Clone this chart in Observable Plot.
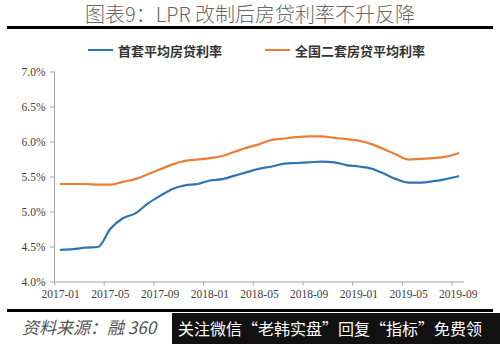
<!DOCTYPE html>
<html><head><meta charset="utf-8">
<script src="https://cdn.jsdelivr.net/npm/d3@7"></script>
<script src="https://cdn.jsdelivr.net/npm/@observablehq/plot@0.6"></script>
<style>
body{margin:0;width:500px;height:344px;position:relative;overflow:hidden;background:#fff;font-family:"Noto Sans CJK SC",sans-serif}
#title{position:absolute;left:0;top:2px;width:500px;text-align:center;font-size:20px;line-height:24px;color:#666;font-weight:300}
.rule{position:absolute;left:7px;width:486px;height:3px;background:#000}
#legend{position:absolute;top:41px;left:0;width:500px;height:18px;font-size:13px;color:#333;font-weight:bold}
.item{position:absolute;top:0;display:flex;align-items:center;height:18px}
.sw{display:inline-block;width:25px;height:2px;margin-right:5px}
#chart{position:absolute;left:0;top:60px}
#source{position:absolute;left:22px;top:314px;font-size:17px;color:#555;font-style:italic;line-height:26px}
#wm{position:absolute;left:172px;top:313px;width:328px;height:31px;background:#111;color:#fff;font-size:16px;line-height:31px;padding-left:6px;box-sizing:border-box;white-space:nowrap;overflow:hidden}
</style></head><body>
<div id="title">图表9：LPR 改制后房贷利率不升反降</div>
<div class="rule" style="top:26px"></div>
<div id="legend"></div>
<div id="chart"></div>
<div class="rule" style="top:309px"></div>
<div id="source">资料来源：融 360</div>
<div id="wm">关注微信“老韩实盘”回复“指标”免费领</div>
<script>
const months = ["2017-01","2017-02","2017-03","2017-04","2017-05","2017-06","2017-07","2017-08","2017-09","2017-10","2017-11","2017-12",
  "2018-01","2018-02","2018-03","2018-04","2018-05","2018-06","2018-07","2018-08","2018-09","2018-10","2018-11","2018-12",
  "2019-01","2019-02","2019-03","2019-04","2019-05","2019-06","2019-07","2019-08","2019-09"];
const firstHome = [4.46,4.47,4.49,4.50,4.76,4.91,4.98,5.12,5.23,5.33,5.38,5.40,5.45,5.47,5.52,5.57,5.62,5.65,5.69,5.70,5.71,5.72,5.71,5.67,5.65,5.62,5.55,5.47,5.42,5.42,5.44,5.47,5.51];
const secondHome = [5.40,5.40,5.40,5.39,5.39,5.43,5.47,5.54,5.61,5.68,5.73,5.75,5.77,5.80,5.86,5.92,5.97,6.03,6.05,6.07,6.08,6.08,6.06,6.04,6.02,5.97,5.90,5.82,5.75,5.76,5.77,5.79,5.84];
const seriesNames = ["首套平均房贷利率","全国二套房贷平均利率"];
const seriesColors = ["#2e75b6","#ed7d31"];
const xTickLabels = ["2017-01","2017-05","2017-09","2018-01","2018-05","2018-09","2019-01","2019-05","2019-09"];
const yTicks = [4.0,4.5,5.0,5.5,6.0,6.5,7.0];

// legend
const legendX = [88, 265];
const lg = document.getElementById("legend");
seriesNames.forEach((n,k)=>{
  const it = document.createElement("div");
  it.className="item"; it.style.left = legendX[k]+"px";
  it.innerHTML = `<span class="sw" style="background:${seriesColors[k]}"></span><span>${n}</span>`;
  lg.appendChild(it);
});

const data = [];
months.forEach((m,i)=>{
  data.push({i:i+0.5, v:firstHome[i], s:seriesNames[0]});
  data.push({i:i+0.5, v:secondHome[i], s:seriesNames[1]});
});
const monthIndex = m => months.indexOf(m);

const chart = Plot.plot({
  width:500, height:248,
  marginLeft:54, marginRight:36, marginTop:11.5, marginBottom:26.5,
  x:{type:"linear", domain:[0, months.length], axis:null},
  y:{domain:[4,7], axis:null},
  color:{domain:seriesNames, range:seriesColors},
  style:{fontFamily:"'Liberation Serif', serif", fontSize:"11.5px", color:"#404040", background:"transparent"},
  marks:[
    Plot.ruleX([0], {y1:4, y2:7, stroke:"#a6a6a6"}),
    Plot.ruleY([4], {stroke:"#a6a6a6"}),
    Plot.axisY({ticks:yTicks, tickFormat:d=>d.toFixed(1)+"%", tickSize:4, tickPadding:5, stroke:"#a6a6a6", fill:"#404040", label:null}),
    Plot.axisX({ticks:xTickLabels.map(monthIndex), tickFormat:()=>"", tickSize:4, stroke:"#a6a6a6", label:null}),
    Plot.axisX({ticks:xTickLabels.map(l=>monthIndex(l)+0.5), tickFormat:d=>months[Math.round(d-0.5)], tickSize:0, tickPadding:8, fill:"#404040", label:null}),
    Plot.line(data, {x:"i", y:"v", stroke:"s", strokeWidth:2.2, curve:"monotone-x"})
  ]
});
document.getElementById("chart").appendChild(chart);
</script>
</body></html>
